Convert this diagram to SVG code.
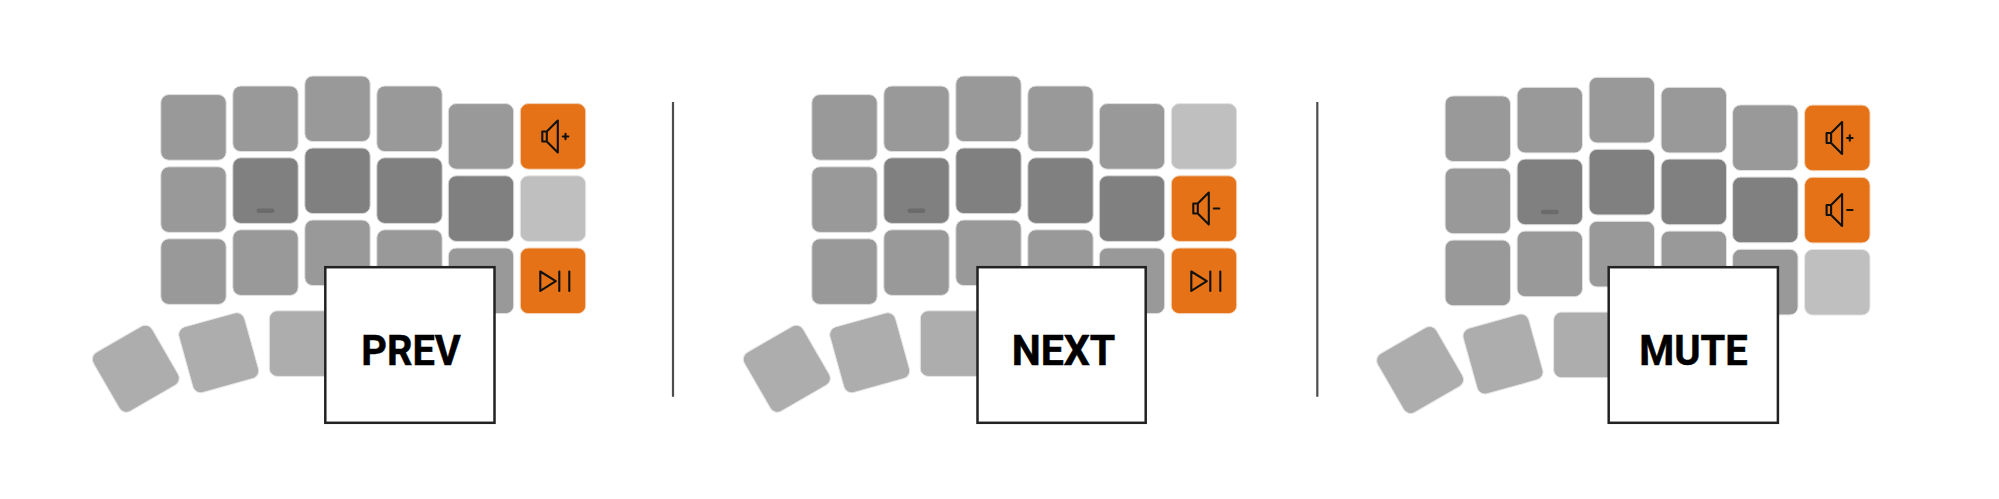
<svg xmlns="http://www.w3.org/2000/svg" width="1999" height="499" viewBox="0 0 1999 499">
<style>
.k{fill:#999;stroke:#e2e2e2;stroke-width:1}
.h{fill:#808080;stroke:#dadada;stroke-width:1}
.t{fill:#adadad;stroke:#e6e6e6;stroke-width:1}
.l{fill:#bfbfbf;stroke:#e6e6e6;stroke-width:1}
.o{fill:#e57217;stroke:#f3d3b8;stroke-width:1}
.i{fill:none;stroke:#111;stroke-width:2.1;stroke-linejoin:round;stroke-linecap:round}
.b{fill:#fff;stroke:#222;stroke-width:2.5}
.x{font-family:"Roboto","Liberation Sans",sans-serif;font-weight:700;font-size:42.5px;fill:#000;stroke:#000;stroke-width:0.5;text-anchor:middle}
.d{stroke:#4d4d4d;stroke-width:2.2;fill:none}
</style>
<defs>
<rect id="key" x="0.3" y="0.3" width="65.4" height="65.6" rx="8"/>
<rect id="tkey" x="0" y="0" width="68" height="68" rx="8"/>
<g id="board">
<use href="#key" class="k" x="160.5" y="94.3"/>
<use href="#key" class="k" x="160.5" y="166.5"/>
<use href="#key" class="k" x="160.5" y="238.5"/>
<use href="#key" class="k" x="232.5" y="85.7"/>
<use href="#key" class="h" x="232.5" y="157.5"/>
<use href="#key" class="k" x="232.5" y="229.5"/>
<use href="#key" class="k" x="304.5" y="75.7"/>
<use href="#key" class="h" x="304.5" y="147.7"/>
<use href="#key" class="k" x="304.5" y="219.7"/>
<use href="#key" class="k" x="376.5" y="85.7"/>
<use href="#key" class="h" x="376.5" y="157.5"/>
<use href="#key" class="k" x="376.5" y="229.5"/>
<use href="#key" class="k" x="448" y="103.3"/>
<use href="#key" class="h" x="448" y="175.5"/>
<use href="#key" class="k" x="448" y="247.7"/>
<rect x="256.5" y="208.5" width="18" height="4.5" rx="2.2" fill="#6b6b6b"/>
<use href="#key" class="t" x="269" y="310.5"/>
<use href="#tkey" class="t" transform="rotate(-15.5 218.7 352.7)" x="184.7" y="318.7"/>
<use href="#tkey" class="t" transform="rotate(-30 135.8 368.7)" x="101.8" y="334.7"/>
</g>
<g id="volup"><path class="i" d="M0 0h4.5v10h-4.5zM4.5 0L15.5 -11V21L4.5 10"/><path class="i" d="M20.5 5h5.5M23.2 2.2v5.6"/></g>
<g id="voldn"><path class="i" d="M0 0h4.5v10h-4.5zM4.5 0L15.5 -11V21L4.5 10"/><path class="i" d="M20.5 5h5.5"/></g>
<g id="play"><path class="i" d="M0 0L15.5 9.7L0 19.4zM19 0v19.4M29 0v19.4"/></g>
</defs>

<g id="panel-prev">
<use href="#board"/>
<g id="prev-volup"><use href="#key" class="o" x="520" y="103.3"/><use href="#volup" x="542.3" y="131.5"/></g>
<g id="prev-empty"><use href="#key" class="l" x="520" y="175.5"/></g>
<g id="prev-play"><use href="#key" class="o" x="520" y="247.7"/><use href="#play" x="540.3" y="271.5"/></g>
<g id="prev-label"><rect class="b" x="325.3" y="267.2" width="169.2" height="155.6"/><text class="x" x="411" y="365" textLength="99.5" lengthAdjust="spacingAndGlyphs">PREV</text></g>
</g>

<g id="panel-next">
<use href="#board" x="651"/>
<g id="next-empty"><use href="#key" class="l" x="1171" y="103.3"/></g>
<g id="next-voldn"><use href="#key" class="o" x="1171" y="175.5"/><use href="#voldn" x="1193.3" y="203.5"/></g>
<g id="next-play"><use href="#key" class="o" x="1171" y="247.7"/><use href="#play" x="1191.3" y="271.5"/></g>
<g id="next-label"><rect class="b" x="977.5" y="267.2" width="168.2" height="155.6"/><text class="x" x="1063.5" y="365" textLength="103.7" lengthAdjust="spacingAndGlyphs">NEXT</text></g>
</g>

<g id="panel-mute">
<use href="#board" x="1284.3" y="1.3"/>
<g id="mute-volup"><use href="#key" class="o" x="1804.3" y="104.8"/><use href="#volup" x="1826.6" y="133"/></g>
<g id="mute-voldn"><use href="#key" class="o" x="1804.3" y="177"/><use href="#voldn" x="1826.6" y="205"/></g>
<g id="mute-empty"><use href="#key" class="l" x="1804.3" y="249.2"/></g>
<g id="mute-label"><rect class="b" x="1608.7" y="267.2" width="169.2" height="155.6"/><text class="x" x="1693.5" y="365" textLength="108.5" lengthAdjust="spacingAndGlyphs">MUTE</text></g>
</g>

<g id="connectors">
<path class="d" d="M673 102V396.7"/>
<path class="d" d="M1317.3 102V396.7"/>
</g>
</svg>
